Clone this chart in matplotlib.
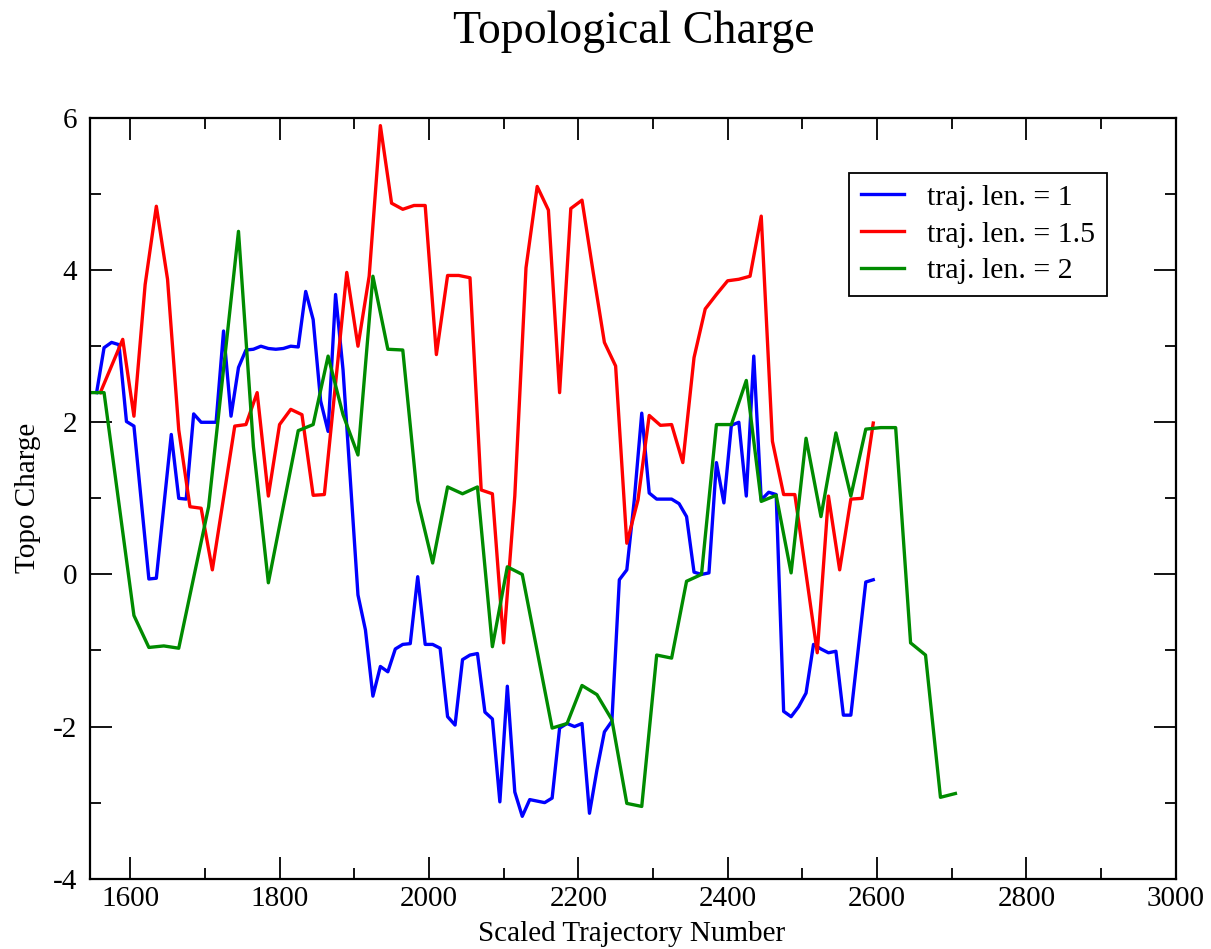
import matplotlib
matplotlib.use("Agg")
import matplotlib.pyplot as plt
from matplotlib.ticker import MultipleLocator

plt.rcParams['font.family'] = ['Liberation Serif', 'DejaVu Serif']
plt.rcParams['axes.unicode_minus'] = False

# ---- data ----
blue_x = [1555, 1565, 1575, 1585, 1595, 1605, 1625, 1635, 1655, 1665, 1675, 1685,
          1695, 1715, 1725, 1735, 1745, 1755, 1765, 1775, 1785, 1795, 1805, 1815,
          1825, 1835, 1845, 1855, 1865, 1875, 1885, 1905, 1915, 1925, 1935, 1945,
          1955, 1965, 1975, 1985, 1995, 2005, 2015, 2025, 2035, 2045, 2055, 2065,
          2075, 2085, 2095, 2105, 2115, 2125, 2135, 2145, 2155, 2165, 2175, 2185,
          2195, 2205, 2215, 2225, 2235, 2245, 2255, 2265, 2275, 2285, 2295, 2305,
          2325, 2335, 2345, 2355, 2365, 2375, 2385, 2395, 2405, 2415, 2425, 2435,
          2445, 2455, 2465, 2475, 2485, 2495, 2505, 2515, 2525, 2535, 2545, 2555,
          2565, 2585, 2595]
blue_y = [2.39, 2.98, 3.05, 3.02, 2.01, 1.95, -0.06, -0.05, 1.84, 1.00, 0.99, 2.11,
          2.00, 2.00, 3.20, 2.08, 2.72, 2.95, 2.96, 3.00, 2.97, 2.96, 2.97, 3.00,
          2.99, 3.72, 3.35, 2.28, 1.88, 3.68, 2.69, -0.27, -0.73, -1.60, -1.21, -1.28,
          -0.98, -0.92, -0.91, -0.03, -0.92, -0.92, -0.97, -1.87, -1.98, -1.12, -1.06, -1.04,
          -1.81, -1.90, -2.99, -1.47, -2.86, -3.18, -2.96, -2.98, -3.00, -2.94, -2.02, -1.96,
          -2.00, -1.96, -3.14, -2.57, -2.07, -1.93, -0.07, 0.06, 0.98, 2.12, 1.07, 0.99,
          0.99, 0.93, 0.76, 0.03, 0.00, 0.02, 1.47, 0.94, 1.96, 2.00, 1.03, 2.87,
          0.98, 1.08, 1.05, -1.80, -1.87, -1.74, -1.56, -0.92, -0.98, -1.03, -1.01, -1.85,
          -1.85, -0.10, -0.07]

red_x = [1560, 1590, 1605, 1620, 1635, 1650, 1665, 1680, 1695, 1710, 1740, 1755,
         1770, 1785, 1800, 1815, 1830, 1845, 1860, 1890, 1905, 1920, 1935, 1950,
         1965, 1980, 1995, 2010, 2025, 2040, 2055, 2070, 2085, 2100, 2115, 2130,
         2145, 2160, 2175, 2190, 2205, 2220, 2235, 2250, 2265, 2280, 2295, 2310,
         2325, 2340, 2355, 2370, 2385, 2400, 2415, 2430, 2445, 2460, 2475, 2490,
         2520, 2535, 2550, 2565, 2580, 2595]
red_y = [2.39, 3.09, 2.08, 3.81, 4.84, 3.88, 1.90, 0.89, 0.87, 0.06, 1.95, 1.97,
         2.39, 1.03, 1.97, 2.17, 2.10, 1.04, 1.05, 3.97, 3.00, 3.92, 5.90, 4.88,
         4.80, 4.85, 4.85, 2.89, 3.93, 3.93, 3.90, 1.11, 1.06, -0.90, 1.03, 4.03,
         5.10, 4.79, 2.39, 4.81, 4.92, 3.97, 3.05, 2.74, 0.41, 0.98, 2.09, 1.96,
         1.97, 1.47, 2.85, 3.49, 3.68, 3.86, 3.88, 3.92, 4.71, 1.75, 1.05, 1.05,
         -1.03, 1.03, 0.06, 0.99, 1.00, 1.99]

green_x = [1545, 1565, 1605, 1625, 1645, 1665, 1705, 1745, 1765, 1785, 1825, 1845,
           1865, 1885, 1905, 1925, 1945, 1965, 1985, 2005, 2025, 2045, 2065, 2085,
           2105, 2125, 2165, 2185, 2205, 2225, 2245, 2265, 2285, 2305, 2325, 2345,
           2365, 2385, 2405, 2425, 2445, 2465, 2485, 2505, 2525, 2545, 2565, 2585,
           2605, 2625, 2645, 2665, 2685, 2705]
green_y = [2.39, 2.39, -0.54, -0.96, -0.94, -0.97, 0.89, 4.51, 1.68, -0.11, 1.89, 1.97,
           2.87, 2.10, 1.57, 3.92, 2.96, 2.95, 0.97, 0.15, 1.15, 1.06, 1.15, -0.95,
           0.10, 0.00, -2.02, -1.96, -1.46, -1.58, -1.91, -3.01, -3.05, -1.06, -1.10, -0.09,
           0.00, 1.97, 1.97, 2.55, 0.96, 1.04, 0.02, 1.79, 0.76, 1.86, 1.03, 1.91,
           1.93, 1.93, -0.90, -1.06, -2.93, -2.88]

labels = ["traj. len. = 1", "traj. len. = 1.5", "traj. len. = 2"]
colors = ["#0000ff", "#ff0000", "#008b00"]

x_ticks = [1600, 1800, 2000, 2200, 2400, 2600, 2800, 3000]
y_ticks = [-4, -2, 0, 2, 4, 6]

W, H = 1211, 949
fig = plt.figure(figsize=(W / 100, H / 100), dpi=100)
L, R, T, B = 89.5, 1175.7, 118.0, 878.7
ax = fig.add_axes([L / W, 1 - B / H, (R - L) / W, (B - T) / H])

lw = 2.4
ax.plot(blue_x, blue_y, color=colors[0], lw=lw, label=labels[0])
ax.plot(red_x, red_y, color=colors[1], lw=lw, label=labels[1])
ax.plot(green_x, green_y, color=colors[2], lw=lw, label=labels[2])

ax.set_xlim(1545.5, 3000)
ax.set_ylim(-4, 6)
ax.set_xticks(x_ticks)
ax.set_yticks(y_ticks)
ax.xaxis.set_minor_locator(MultipleLocator(100))
ax.yaxis.set_minor_locator(MultipleLocator(1))
ax.tick_params(which='both', direction='in', top=True, right=True, width=1.3,
               labelsize=21, colors='black')
ax.tick_params(which='major', length=16)
ax.tick_params(which='minor', length=8)
ax.tick_params(axis='x', which='major', pad=5)
ax.tick_params(axis='y', which='major', pad=9)
for s in ax.spines.values():
    s.set_linewidth(1.6)

fig.text(0.5236, 1 - 32 / H, "Topological Charge", ha='center', va='center', fontsize=33)
fig.text(632 / W, 1 - 934 / H, "Scaled Trajectory Number", ha='center', va='center', fontsize=21)
fig.text(28 / W, 1 - 498 / H, "Topo Charge", ha='center', va='center', rotation=90, fontsize=21)

leg = ax.legend(loc='upper left', bbox_to_anchor=(0.6995, 0.9281), borderaxespad=0,
                fontsize=21.5, frameon=True, fancybox=False, edgecolor='black',
                handlelength=1.45, handletextpad=0.78, labelspacing=0.33,
                borderpad=0.38)
leg.get_frame().set_linewidth(1.3)
leg.get_frame().set_alpha(1)

fig.savefig("out.png", dpi=100)
